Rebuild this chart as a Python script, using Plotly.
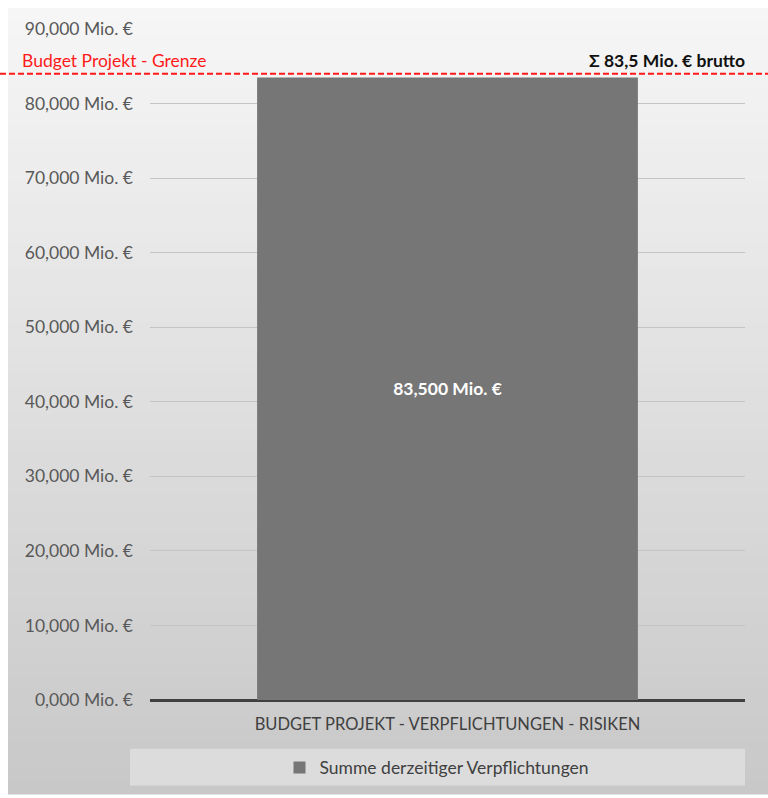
import plotly.graph_objects as go

categories = ["BUDGET PROJEKT - VERPFLICHTUNGEN - RISIKEN"]
values = [83.5]
series_name = "Summe derzeitiger Verpflichtungen"
bar_labels = ["83,500 Mio. €"]
budget_limit = 84.0
tick_vals = [0, 10, 20, 30, 40, 50, 60, 70, 80, 90]
tick_text = ["0,000 Mio. €", "10,000 Mio. €", "20,000 Mio. €", "30,000 Mio. €", "40,000 Mio. €",
             "50,000 Mio. €", "60,000 Mio. €", "70,000 Mio. €", "80,000 Mio. €", "90,000 Mio. €"]

W, H = 768, 798
L, R, T, B = 150, 23, 29, 94
pw, ph = W - L - R, H - T - B

def px_x(x):
    return (x - L) / pw

def px_y(y):
    return (H - B - y) / ph

FONT = "Lato"
FS = 17.5

fig = go.Figure()
fig.add_trace(go.Bar(
    x=categories, y=values, name=series_name,
    marker=dict(color="#767676", line=dict(width=0)),
    width=0.64,
    text=bar_labels, textposition="inside", insidetextanchor="middle",
    textfont=dict(color="white", size=FS, family=FONT),
    texttemplate="<b>%{text}</b>",
))

shapes = []
# vertical gradient background
n = 60
top_c, bot_c = 246, 200
for i in range(n):
    y0 = 8 + (H - 8) * i / n
    y1 = 8 + (H - 8) * (i + 1) / n + 1
    c = round(top_c + (bot_c - top_c) * i / (n - 1))
    shapes.append(dict(type="rect", xref="paper", yref="paper",
                       x0=px_x(8), x1=px_x(W), y0=px_y(y1), y1=px_y(y0),
                       fillcolor=f"rgb({c},{c},{c})", line=dict(width=0), layer="below"))
# legend box
shapes.append(dict(type="rect", xref="paper", yref="paper",
                   x0=px_x(130), x1=px_x(745), y0=px_y(790), y1=px_y(753),
                   fillcolor="#dcdcdc", line=dict(width=0), layer="below"))
# budget line
shapes.append(dict(type="line", xref="paper", yref="y",
                   x0=px_x(0), x1=px_x(W), y0=budget_limit, y1=budget_limit,
                   line=dict(color="#ff1a1a", width=1.8, dash="6px,3px"), layer="above"))

fig.update_layout(
    width=W, height=H,
    margin=dict(l=L, r=R, t=T, b=B),
    paper_bgcolor="white",
    plot_bgcolor="rgba(0,0,0,0)",
    shapes=shapes,
    showlegend=True,
    legend=dict(orientation="h", x=px_x(437), xanchor="center", y=px_y(772), yanchor="middle",
                bgcolor="rgba(0,0,0,0)", font=dict(family=FONT, size=FS, color="#404040"),
                itemwidth=30),
    xaxis=dict(showgrid=False, showline=False, ticks="", range=[-0.5, 0.5],
               tickfont=dict(family=FONT, size=16.5, color="#404040"),
               ticklabelstandoff=12),
    yaxis=dict(range=[0, 90], tickvals=tick_vals, ticktext=tick_text,
               showgrid=True, gridcolor="#c4c4c4", gridwidth=1,
               zeroline=True, zerolinecolor="#404040", zerolinewidth=3,
               tickfont=dict(family=FONT, size=FS, color="#595959"), ticks="",
               ticklabelstandoff=16),
    annotations=[
        dict(text="Budget Projekt - Grenze", xref="paper", yref="paper",
             x=px_x(20), y=px_y(61), xanchor="left", yanchor="middle", showarrow=False,
             font=dict(family=FONT, size=FS, color="#ff1a1a")),
        dict(text="<b>Σ 83,5 Mio. € brutto</b>", xref="paper", yref="paper",
             x=px_x(747), y=px_y(61), xanchor="right", yanchor="middle", showarrow=False,
             font=dict(family=FONT, size=FS, color="#111111")),
    ],
    bargap=0.36,
)

fig.write_html("out.html")
